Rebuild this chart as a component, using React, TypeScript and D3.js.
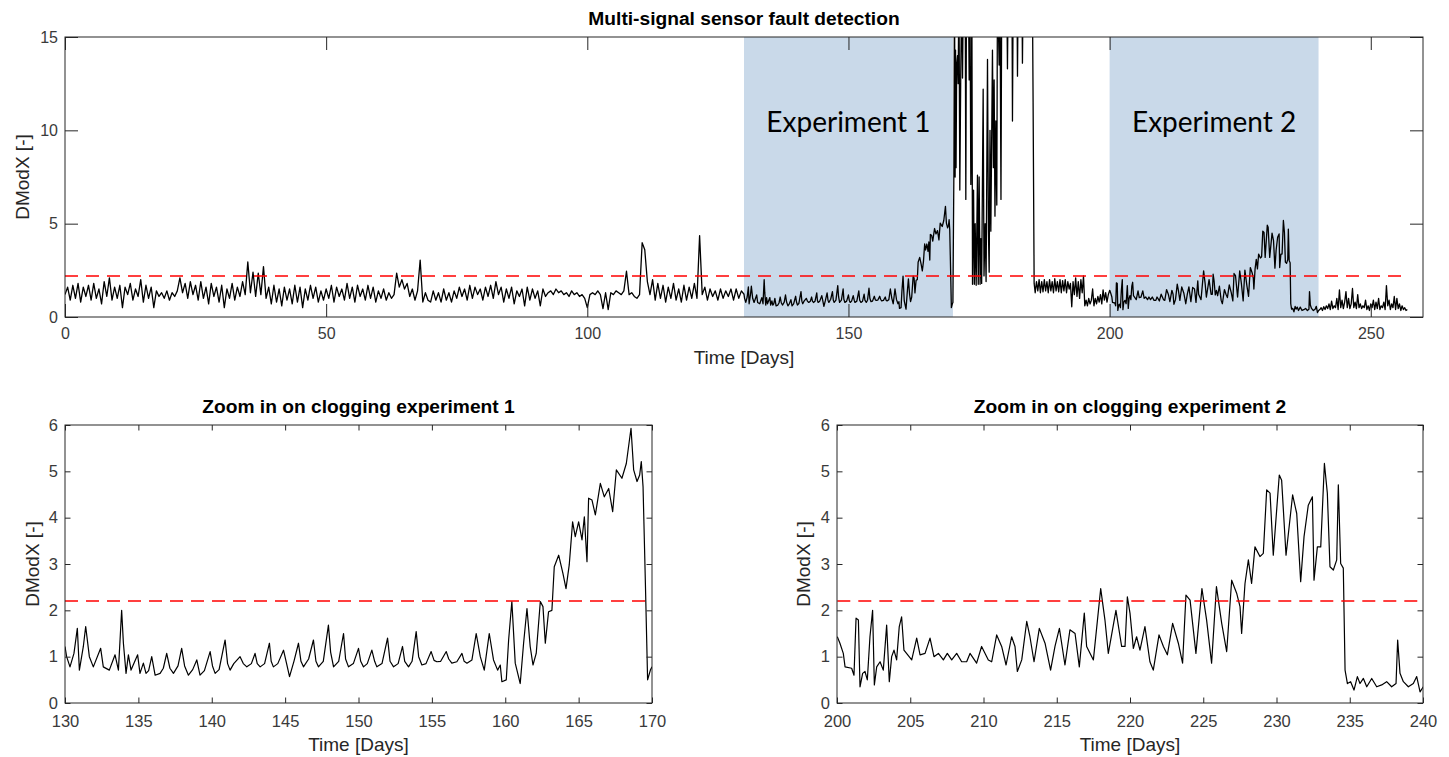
import React, { useEffect, useRef } from 'react';
import * as d3 from 'd3';

type Reading = [number, number]; // [day, DModX]

// days 0 - 129.5, one reading every half day
const earlyStart = 0;
const earlyStep = 0.5;
const earlyValues = [
  1.2, 1.6, 0.9, 1.7, 1.0, 1.8, 0.8, 1.6, 1.1, 1.7,
  0.9, 1.8, 1.0, 1.5, 0.7, 1.9, 1.1, 2.1, 0.9, 1.6,
  1.0, 1.7, 0.5, 1.6, 1.2, 1.8, 0.9, 1.5, 1.1, 2.0,
  0.8, 1.7, 1.0, 1.6, 0.5, 1.4, 1.1, 1.3, 1.0, 1.4,
  0.9, 1.3, 1.1, 1.4, 2.1, 1.3, 1.8, 1.0, 1.9, 1.2,
  1.7, 0.9, 1.9, 1.0, 1.6, 0.7, 1.8, 1.1, 1.6, 0.8,
  1.7, 0.5, 1.5, 1.0, 1.8, 0.9, 1.6, 1.1, 1.9, 1.2,
  2.95, 1.3, 2.4, 1.1, 2.35, 1.2, 2.7, 1.0, 1.6, 0.7,
  1.7, 0.8, 1.5, 0.6, 1.6, 0.9, 1.5, 0.7, 1.7, 0.8,
  1.6, 0.5, 1.5, 0.9, 1.7, 1.0, 1.6, 0.8, 1.4, 0.9,
  1.5, 1.0, 1.7, 0.8, 1.6, 1.1, 1.5, 0.9, 1.8, 1.0,
  1.6, 0.8, 1.7, 1.1, 1.5, 0.9, 1.7, 1.0, 1.6, 0.8,
  1.4, 1.0, 1.5, 0.9, 1.3, 1.0, 1.2, 2.35, 1.6, 2.0,
  1.5, 1.8, 1.1, 1.5, 0.9, 1.4, 3.05, 0.8, 1.3, 0.9,
  0.8, 1.4, 0.9, 1.3, 0.8, 1.5, 0.9, 1.3, 0.8, 1.4,
  1.0, 1.6, 1.1, 1.5, 0.9, 1.7, 1.0, 1.6, 1.2, 1.5,
  0.9, 1.6, 1.1, 1.7, 1.0, 1.9, 1.2, 1.6, 0.8, 1.5,
  1.0, 1.6, 0.7, 1.4, 1.1, 1.5, 0.6, 1.6, 0.9, 1.5,
  1.0, 1.4, 0.6, 1.5, 1.1, 1.3, 1.4, 1.2, 1.5, 1.3,
  1.4, 1.2, 1.3, 1.1, 1.4, 1.2, 1.3, 1.1, 1.2, 1.0,
  0.5, 1.2, 1.3, 1.2, 1.4, 1.2, 0.45, 1.3, 0.4, 1.3,
  1.2, 1.4, 1.3, 1.2, 1.4, 2.45, 1.2, 1.3, 1.1, 1.0,
  1.2, 3.98, 3.6, 1.9, 1.2, 2.0, 0.9, 1.8, 1.0, 1.7,
  0.8, 1.6, 1.0, 1.8, 0.9, 1.5, 0.8, 1.7, 0.9, 1.6,
  1.0, 1.8, 1.0, 4.36, 1.2, 1.6, 0.9, 1.5, 1.1, 1.4,
  0.9, 1.5, 1.0, 1.4, 1.1, 1.5, 0.9, 1.5, 1.0, 1.4,
];

// clogging experiment 1
const exp1Readings: Reading[] = [
  [130.0, 1.22], [130.11, 1.0], [130.34, 0.78], [130.61, 1.07], [130.84, 1.61], [130.98, 0.71],
  [131.25, 1.22], [131.41, 1.65], [131.66, 1.0], [131.93, 0.78], [132.43, 1.18], [132.61, 0.78],
  [133.02, 0.71], [133.41, 1.04], [133.64, 0.71], [133.86, 2.0], [133.98, 1.29], [134.16, 0.64],
  [134.32, 1.04], [134.5, 0.71], [134.95, 1.04], [135.11, 0.64], [135.34, 0.86], [135.52, 0.64],
  [135.7, 0.7], [135.91, 1.0], [136.14, 0.6], [136.48, 0.64], [136.7, 0.75], [136.93, 1.07],
  [137.15, 0.75], [137.39, 0.64], [137.7, 0.8], [137.95, 1.18], [138.15, 0.8], [138.41, 0.6],
  [138.7, 0.72], [138.98, 0.93], [139.2, 0.6], [139.5, 0.7], [139.89, 1.11], [140.05, 0.8],
  [140.23, 0.64], [140.5, 0.72], [140.91, 1.36], [141.08, 0.85], [141.25, 0.71], [141.5, 0.85],
  [141.93, 1.0], [142.15, 0.85], [142.39, 0.78], [142.7, 0.85], [142.95, 1.07], [143.1, 0.85],
  [143.3, 0.78], [143.6, 0.85], [143.93, 1.29], [144.05, 0.9], [144.2, 0.78], [144.5, 0.85],
  [144.89, 1.14], [145.1, 0.85], [145.3, 0.57], [145.6, 0.9], [145.91, 1.29], [146.08, 0.9],
  [146.25, 0.78], [146.6, 0.95], [146.93, 1.36], [147.1, 0.9], [147.27, 0.78], [147.6, 0.9],
  [147.95, 1.68], [148.1, 1.1], [148.3, 0.78], [148.65, 0.9], [148.98, 1.5], [149.12, 0.95],
  [149.32, 0.78], [149.65, 0.85], [150.0, 1.18], [150.15, 0.9], [150.34, 0.78], [150.6, 0.85],
  [150.91, 1.14], [151.1, 0.9], [151.25, 0.78], [151.6, 0.85], [151.98, 1.4], [152.15, 0.9],
  [152.39, 0.78], [152.7, 0.85], [153.0, 1.22], [153.15, 0.9], [153.41, 0.78], [153.65, 0.9],
  [153.93, 1.54], [154.1, 1.0], [154.32, 0.82], [154.6, 0.85], [154.95, 1.11], [155.15, 0.92],
  [155.34, 0.89], [155.6, 0.9], [155.98, 1.11], [156.15, 0.95], [156.36, 0.86], [156.7, 0.89],
  [157.05, 1.07], [157.2, 0.9], [157.39, 0.86], [157.73, 0.93], [158.02, 1.5], [158.3, 1.0],
  [158.57, 0.71], [158.91, 1.5], [159.2, 0.93], [159.48, 0.71], [159.66, 0.82], [159.77, 0.46],
  [160.07, 0.5], [160.23, 1.36], [160.45, 2.19], [160.68, 0.86], [161.02, 0.42], [161.25, 1.29],
  [161.48, 2.04], [161.7, 1.22], [161.89, 0.82], [162.11, 1.07], [162.39, 2.19], [162.57, 2.08],
  [162.73, 1.29], [162.95, 1.97], [163.18, 2.0], [163.34, 2.94], [163.64, 3.19], [163.93, 2.8],
  [164.14, 2.47], [164.36, 2.98], [164.59, 3.91], [164.77, 3.59], [165.0, 3.91], [165.23, 3.52],
  [165.39, 4.02], [165.57, 3.05], [165.68, 4.42], [165.91, 4.38], [166.14, 4.06], [166.48, 4.74],
  [166.75, 4.45], [167.05, 4.63], [167.32, 4.13], [167.57, 5.03], [167.95, 4.85], [168.25, 5.17],
  [168.57, 5.93], [168.75, 5.03], [168.98, 4.78], [169.16, 4.92], [169.27, 5.21], [169.39, 4.67],
  [169.55, 2.58], [169.7, 0.5], [169.89, 0.71], [170.0, 0.78],
];

// sensor fault after experiment 1, readings above 15 leave the axis
const faultReadings: Reading[] = [
  [170.18, 7.6], [170.3, 18], [170.42, 7.5], [170.5, 14.3], [170.6, 8.0], [170.72, 13.5],
  [170.88, 14.0], [171.0, 12.5], [171.15, 18], [171.32, 6.8], [171.5, 13.0], [171.7, 18],
  [171.84, 12.8], [172.0, 18], [172.35, 18], [172.47, 6.3], [172.6, 18], [172.95, 18],
  [173.11, 12.7], [173.25, 18], [173.43, 7.1], [173.55, 10.3], [173.62, 18], [173.75, 1.75],
  [173.95, 6.8], [174.1, 1.75], [174.26, 5.0], [174.45, 1.7], [174.7, 7.6], [174.85, 1.75],
  [175.02, 7.5], [175.2, 1.75], [175.35, 4.2], [175.5, 1.8], [175.79, 12.2], [175.95, 2.2],
  [176.17, 5.0], [176.35, 1.9], [176.62, 13.8], [176.8, 4.5], [176.94, 2.4], [177.1, 10.0],
  [177.26, 4.6], [177.57, 14.3], [177.75, 8.0], [177.89, 12.7], [178.05, 5.4], [178.21, 10.5],
  [178.4, 6.0], [178.53, 18], [178.85, 13.5], [179.0, 18], [179.2, 6.3], [179.35, 18],
  [180.3, 18], [180.44, 13.3], [180.6, 18], [181.3, 18], [181.4, 10.5], [181.55, 18],
  [182.25, 18], [182.36, 12.9], [182.5, 18], [183.2, 18], [183.31, 13.6], [183.45, 18],
  [185.2, 18], [185.35, 11.5], [185.55, 1.8],
];

// back to normal before experiment 2, every quarter day
const recoveryStart = 185.75;
const recoveryStep = 0.25;
const recoveryValues = [
  1.3, 1.9, 1.4, 2.0, 1.3, 1.9, 1.35, 2.0, 1.4, 1.9, 1.3, 2.0,
  1.4, 1.9, 1.3, 2.05, 1.4, 1.9, 1.35, 2.0, 1.3, 1.95, 1.4, 2.0,
  1.3, 1.9, 1.5, 1.8, 0.55, 1.9, 1.2, 2.1, 1.1, 1.9, 1.0, 2.0,
  1.3, 2.2, 0.6, 0.9, 0.6, 1.0, 0.7, 0.9, 1.5, 0.6, 1.0, 0.7,
  1.1, 0.8, 1.2, 0.7, 1.45, 0.9, 1.3, 0.8, 1.2,
];

// clogging experiment 2
const exp2Readings: Reading[] = [
  [200.02, 1.43], [200.2, 1.29], [200.43, 1.07], [200.55, 0.78], [201.0, 0.75], [201.16, 0.6],
  [201.3, 1.83], [201.46, 1.79], [201.57, 0.35], [201.75, 0.64], [201.91, 0.68], [202.07, 0.5],
  [202.25, 1.43], [202.43, 2.0], [202.55, 0.39], [202.71, 0.78], [202.94, 0.89], [203.16, 0.71],
  [203.39, 1.68], [203.57, 0.46], [203.73, 1.0], [203.89, 1.14], [204.07, 0.93], [204.25, 1.65],
  [204.41, 1.86], [204.57, 1.14], [205.1, 0.93], [205.44, 1.4], [205.67, 1.04], [206.01, 1.07],
  [206.35, 1.4], [206.62, 1.0], [206.92, 1.07], [207.26, 0.93], [207.53, 1.07], [207.83, 0.93],
  [208.17, 1.07], [208.51, 0.89], [208.85, 0.89], [209.08, 1.07], [209.53, 0.86], [209.87, 1.22],
  [210.33, 0.93], [210.56, 0.89], [210.9, 1.47], [211.24, 1.22], [211.54, 0.82], [211.92, 1.43],
  [212.15, 1.22], [212.31, 0.68], [212.61, 0.93], [212.95, 1.76], [213.17, 1.43], [213.45, 0.89],
  [213.81, 1.61], [214.2, 1.29], [214.58, 0.71], [214.88, 1.22], [215.18, 1.61], [215.56, 0.82],
  [215.9, 1.58], [216.25, 1.5], [216.54, 0.78], [216.88, 1.94], [217.04, 1.22], [217.5, 0.93],
  [218.0, 2.47], [218.29, 1.79], [218.52, 1.07], [219.04, 2.0], [219.43, 1.22], [219.66, 1.22],
  [219.82, 2.29], [220.0, 1.94], [220.23, 1.18], [220.45, 1.43], [220.68, 1.14], [221.02, 1.65],
  [221.36, 0.89], [221.59, 0.71], [221.98, 1.47], [222.28, 1.22], [222.55, 1.04], [222.91, 1.72],
  [223.3, 1.29], [223.59, 0.86], [223.82, 2.33], [224.1, 2.22], [224.5, 1.07], [224.91, 2.47],
  [225.23, 1.79], [225.57, 0.86], [225.9, 2.51], [226.26, 1.72], [226.6, 1.11], [226.94, 2.65],
  [227.28, 2.37], [227.51, 2.08], [227.62, 1.5], [227.85, 2.58], [228.08, 3.09], [228.3, 2.58],
  [228.53, 3.37], [228.87, 3.16], [229.1, 3.23], [229.33, 4.6], [229.56, 4.53], [229.78, 3.19],
  [230.19, 4.92], [230.35, 4.81], [230.65, 3.19], [231.1, 4.49], [231.38, 4.09], [231.65, 2.62],
  [231.88, 3.59], [232.17, 4.27], [232.45, 4.45], [232.56, 2.65], [232.79, 3.37], [233.02, 3.37],
  [233.27, 5.17], [233.47, 4.53], [233.65, 2.94], [233.88, 2.87], [234.11, 3.09], [234.22, 4.71],
  [234.38, 3.01], [234.56, 2.91], [234.68, 0.71], [234.84, 0.42], [235.06, 0.46], [235.29, 0.28],
  [235.52, 0.57], [235.7, 0.42], [235.93, 0.53], [236.16, 0.35], [236.5, 0.53], [236.84, 0.35],
  [237.18, 0.39], [237.52, 0.46], [237.86, 0.35], [238.16, 0.42], [238.27, 1.36], [238.43, 0.64],
  [238.66, 0.46], [239.0, 0.35], [239.34, 0.42], [239.57, 0.57], [239.8, 0.24], [240.02, 0.35],
];

// after experiment 2, every quarter day
const tailStart = 240.25;
const tailStep = 0.25;
const tailValues = [
  0.4, 0.5, 0.35, 0.55, 0.4, 0.6, 0.45, 0.7, 0.4, 0.85, 0.45, 0.6,
  0.5, 1.0, 0.4, 1.45, 0.5, 0.9, 0.45, 0.8, 1.36, 0.5, 1.0, 0.45,
  0.7, 1.53, 0.5, 0.8, 0.45, 1.2, 0.5, 0.7, 0.45, 0.6, 0.5, 0.9,
  0.4, 0.6, 0.35, 0.7, 0.5, 0.9, 0.4, 0.8, 0.45, 1.0, 0.4, 0.6,
  0.5, 0.8, 0.4, 1.68, 0.6, 0.9, 0.4, 0.7, 0.5, 1.1, 0.4, 1.0,
  0.45, 0.7, 0.35, 0.6, 0.4, 0.5, 0.35, 0.4,
];

const threshold = 2.2;
const experiments = [
  { name: 'Experiment 1', from: 130, to: 170 },
  { name: 'Experiment 2', from: 200, to: 240 },
];
const topXTicks = [0, 50, 100, 150, 200, 250];
const topYTicks = [0, 5, 10, 15];
const zoomYTicks = [0, 1, 2, 3, 4, 5, 6];
const zoom1XTicks = [130, 135, 140, 145, 150, 155, 160, 165, 170];
const zoom2XTicks = [200, 205, 210, 215, 220, 225, 230, 235, 240];

const stepped = (start: number, step: number, values: number[]): Reading[] =>
  values.map((v, i) => [start + i * step, v]);

const fullSeries: Reading[] = [
  ...stepped(earlyStart, earlyStep, earlyValues),
  ...exp1Readings,
  ...faultReadings,
  ...stepped(recoveryStart, recoveryStep, recoveryValues),
  ...exp2Readings,
  ...stepped(tailStart, tailStep, tailValues),
];

const FONT = "'Liberation Sans', Arial, Helvetica, sans-serif";
const AXIS = '#262626';

function drawPanel(svg: any, cfg: any) {
  const { left, top, width, height } = cfg.box;
  const x = d3.scaleLinear().domain(cfg.xDomain).range([left, left + width]);
  const y = d3.scaleLinear().domain(cfg.yDomain).range([top + height, top]);
  const g = svg.append('g');

  g.append('clipPath').attr('id', cfg.id)
    .append('rect').attr('x', left).attr('y', top).attr('width', width).attr('height', height);

  // shaded experiment periods
  (cfg.bands || []).forEach((b: any) => {
    g.append('rect')
      .attr('x', x(b.from)).attr('y', top)
      .attr('width', x(b.to) - x(b.from)).attr('height', height)
      .attr('fill', '#c9d9e9');
  });

  const line = d3.line<Reading>().x(d => x(d[0])).y(d => y(d[1]));
  g.append('path').datum(cfg.data)
    .attr('d', line)
    .attr('fill', 'none').attr('stroke', '#000')
    .attr('stroke-width', cfg.lineWidth).attr('stroke-linejoin', 'round')
    .attr('clip-path', `url(#${cfg.id})`);

  const first = cfg.data[0][0];
  const last = cfg.data[cfg.data.length - 1][0];
  g.append('line')
    .attr('x1', x(first)).attr('x2', x(last))
    .attr('y1', y(threshold)).attr('y2', y(threshold))
    .attr('stroke', '#ff0000').attr('stroke-width', 1.5)
    .attr('stroke-dasharray', '13 8');

  // axes: ticks point inwards on all four sides, like MATLAB's box
  const styleAxis = (sel: any) => {
    sel.select('.domain').remove();
    sel.selectAll('line').attr('stroke', AXIS);
    sel.selectAll('text').attr('fill', '#3a3a3a').style('font-family', FONT).style('font-size', cfg.tickFont);
  };
  g.append('g').attr('transform', `translate(0,${top + height})`)
    .call(d3.axisBottom(x).tickValues(cfg.xTicks).tickSizeInner(-cfg.tickLen).tickSizeOuter(0)
      .tickPadding(cfg.xPad).tickFormat(d3.format('d')))
    .call(styleAxis);
  g.append('g').attr('transform', `translate(0,${top})`)
    .call(d3.axisTop(x).tickValues(cfg.xTicks).tickSizeInner(-cfg.tickLen).tickSizeOuter(0).tickFormat(() => ''))
    .call(styleAxis);
  g.append('g').attr('transform', `translate(${left},0)`)
    .call(d3.axisLeft(y).tickValues(cfg.yTicks).tickSizeInner(-cfg.tickLen).tickSizeOuter(0)
      .tickPadding(7).tickFormat(d3.format('d')))
    .call(styleAxis);
  g.append('g').attr('transform', `translate(${left + width},0)`)
    .call(d3.axisRight(y).tickValues(cfg.yTicks).tickSizeInner(-cfg.tickLen).tickSizeOuter(0).tickFormat(() => ''))
    .call(styleAxis);

  g.append('rect')
    .attr('x', left).attr('y', top).attr('width', width).attr('height', height)
    .attr('fill', 'none').attr('stroke', AXIS).attr('stroke-width', 1);

  g.append('text')
    .attr('x', left + width / 2).attr('y', cfg.titleY)
    .attr('text-anchor', 'middle')
    .style('font-family', FONT).style('font-size', '19.2px').style('font-weight', 'bold')
    .attr('fill', '#000')
    .text(cfg.title);

  g.append('text')
    .attr('x', left + width / 2).attr('y', cfg.xLabelY)
    .attr('text-anchor', 'middle')
    .style('font-family', FONT).style('font-size', '19px')
    .attr('fill', AXIS)
    .text('Time [Days]');

  g.append('text')
    .attr('transform', `translate(${cfg.yLabelX},${top + height / 2}) rotate(-90)`)
    .attr('text-anchor', 'middle')
    .style('font-family', FONT).style('font-size', '19px')
    .attr('fill', AXIS)
    .text('DModX [-]');

  (cfg.bands || []).forEach((b: any) => {
    g.append('text')
      .attr('x', (x(b.from) + x(b.to)) / 2).attr('y', 132)
      .attr('text-anchor', 'middle')
      .style('font-family', "Lato, 'Open Sans', sans-serif").style('font-size', '28px')
      .attr('fill', '#000')
      .text(b.name);
  });
}

export default function App() {
  const ref = useRef<SVGSVGElement>(null);

  useEffect(() => {
    const svg = d3.select(ref.current);
    svg.selectAll('*').remove();

    drawPanel(svg, {
      id: 'clip-top',
      box: { left: 65, top: 37, width: 1358, height: 280 },
      xDomain: [0, 260], yDomain: [0, 15],
      xTicks: topXTicks, yTicks: topYTicks,
      tickLen: 13, xPad: 11, lineWidth: 1.3, tickFont: '16px',
      data: fullSeries, bands: experiments,
      title: 'Multi-signal sensor fault detection',
      titleY: 25, xLabelY: 364, yLabelX: 29,
    });

    drawPanel(svg, {
      id: 'clip-zoom1',
      box: { left: 65, top: 425, width: 587, height: 278 },
      xDomain: [130, 170], yDomain: [0, 6],
      xTicks: zoom1XTicks, yTicks: zoomYTicks,
      tickLen: 5.5, xPad: 12, lineWidth: 1.2, tickFont: '16.5px',
      data: exp1Readings,
      title: 'Zoom in on clogging experiment 1',
      titleY: 413, xLabelY: 751, yLabelX: 39,
    });

    drawPanel(svg, {
      id: 'clip-zoom2',
      box: { left: 837, top: 425, width: 586, height: 278 },
      xDomain: [200, 240], yDomain: [0, 6],
      xTicks: zoom2XTicks, yTicks: zoomYTicks,
      tickLen: 5.5, xPad: 12, lineWidth: 1.2, tickFont: '16.5px',
      data: exp2Readings,
      title: 'Zoom in on clogging experiment 2',
      titleY: 413, xLabelY: 751, yLabelX: 810,
    });
  }, []);

  return (
    <svg ref={ref} width={1449} height={757}
      style={{ position: 'absolute', left: 0, top: 0, background: '#fff' }} />
  );
}
